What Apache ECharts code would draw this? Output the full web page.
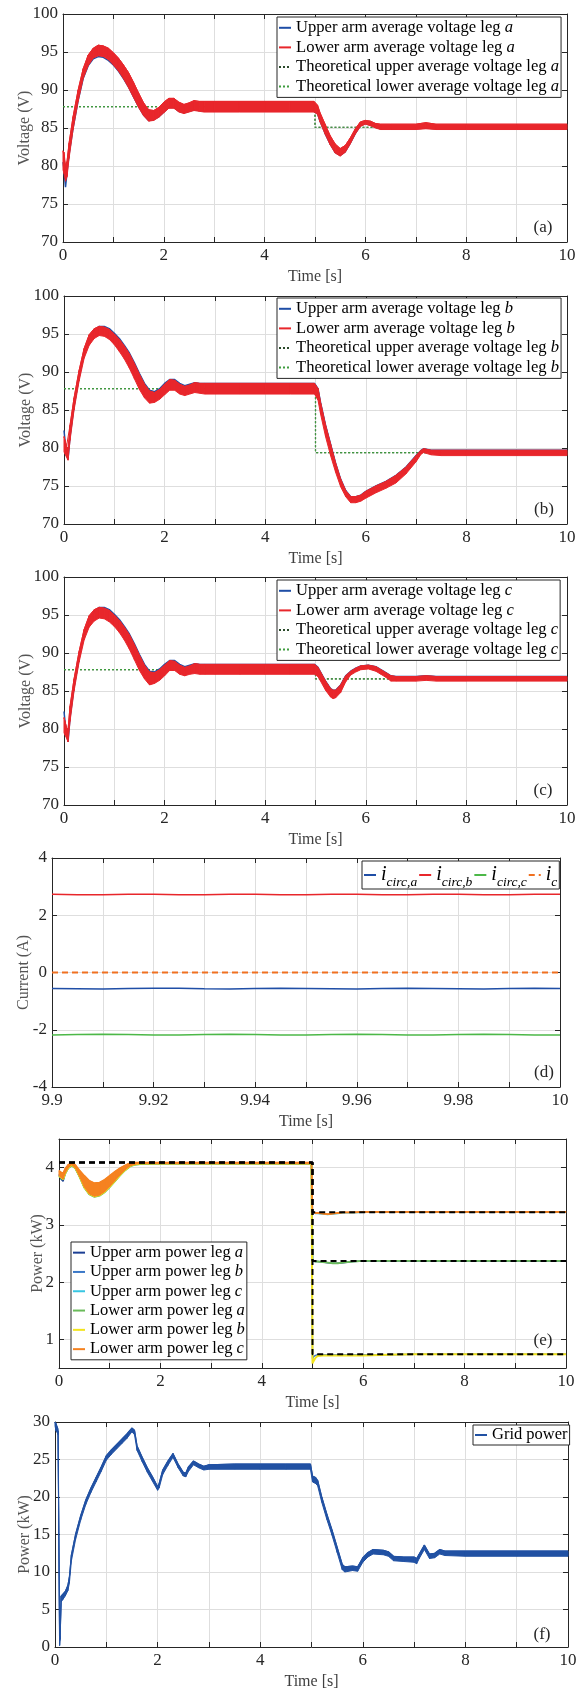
<!DOCTYPE html>
<html><head><meta charset="utf-8">
<script src="https://cdn.jsdelivr.net/npm/echarts@6/dist/echarts.min.js"></script>
<style>html,body{margin:0;padding:0;background:#fff}#c{width:587px;height:1693px}</style>
</head><body><div id="c"></div>
<script>
// ---------- Panel (a) ----------
const tA = [0,0.02,0.05,0.08,0.12,0.2,0.3,0.4,0.5,0.6,0.7,0.8,0.9,1.0,1.1,1.2,1.3,1.4,1.5,1.6,1.7,1.8,1.9,2.0,2.1,2.2,2.3,2.4,2.5,2.6,2.7,2.8,3.0,3.5,4.0,4.5,4.98,5.05,5.1,5.2,5.3,5.4,5.5,5.6,5.7,5.8,5.9,6.0,6.1,6.2,6.3,6.5,7.0,7.2,7.4,8.0,9.0,10.0];
const lowerALo = [79.5,79.0,78.0,78.6,81.0,84.8,88.5,91.5,93.2,94.2,94.5,94.4,94.0,93.3,92.5,91.5,90.3,89.0,87.7,86.6,85.9,86.0,86.4,87.0,87.6,87.6,87.1,86.9,87.1,87.3,87.2,87.1,87.1,87.1,87.1,87.1,87.1,86.8,85.8,84.2,82.8,81.7,81.3,81.8,82.9,84.2,85.2,85.5,85.3,85.0,84.8,84.8,84.8,84.9,84.8,84.8,84.8,84.8];
const lowerAHi = [82.0,81.8,80.0,80.6,83.0,86.5,90.0,92.8,94.6,95.5,95.9,95.8,95.5,94.9,94.2,93.3,92.3,91.0,89.6,88.3,87.4,87.3,87.7,88.4,88.9,88.9,88.4,88.1,88.3,88.6,88.5,88.5,88.5,88.5,88.5,88.5,88.5,88.0,87.0,85.5,84.0,82.9,82.3,82.7,83.7,84.9,85.8,86.0,85.9,85.6,85.5,85.5,85.5,85.7,85.5,85.5,85.5,85.5];
const upperA = [80.5,79.5,77.2,79.2,81.5,85.0,88.6,91.5,93.2,94.1,94.4,94.3,93.9,93.3,92.5,91.5,90.4,89.1,87.8,86.7,86.0,86.1,86.5,87.1,87.7,87.7,87.2,87.0,87.2,87.4,87.3,87.2,87.2,87.2,87.2,87.2,87.2,86.9,85.9,84.3,82.9,81.8,81.4,81.9,83.0,84.3,85.3,85.6,85.4,85.1,84.9,84.9,84.9,85.0,84.9,84.9,84.9,84.9];
// ---------- Panel (b) ----------
const tB = [0,0.02,0.05,0.08,0.12,0.2,0.3,0.4,0.5,0.6,0.7,0.8,0.9,1.0,1.1,1.2,1.3,1.4,1.5,1.6,1.7,1.8,1.9,2.0,2.1,2.2,2.3,2.4,2.5,2.6,2.7,2.8,3.0,3.5,4.0,4.5,4.98,5.05,5.1,5.2,5.3,5.4,5.5,5.6,5.7,5.8,5.9,6.0,6.2,6.4,6.6,6.8,7.0,7.1,7.15,7.3,7.5,8.0,9.0,10.0];
const lowerBLo = [79.5,79.2,78.8,78.4,81.0,85.0,88.8,91.8,93.5,94.4,94.8,94.7,94.3,93.6,92.7,91.7,90.5,89.1,87.7,86.6,85.9,86.0,86.4,87.0,87.6,87.6,87.1,86.9,87.1,87.3,87.2,87.1,87.1,87.1,87.1,87.1,87.1,86.3,84.5,81.5,79.0,76.8,74.9,73.6,72.8,72.8,73.0,73.4,74.1,74.7,75.4,76.6,78.2,79.2,79.4,79.1,79.0,79.0,79.0,79.0];
const lowerBHi = [81.5,81.0,80.2,80.0,83.0,86.6,90.2,93.1,94.9,95.7,96.0,95.9,95.6,95.0,94.3,93.4,92.4,91.1,89.7,88.4,87.5,87.3,87.7,88.4,89.0,88.9,88.4,88.1,88.3,88.6,88.5,88.5,88.5,88.5,88.5,88.5,88.5,87.8,86.0,83.0,80.5,78.0,75.9,74.4,73.6,73.6,73.8,74.3,75.0,75.6,76.4,77.5,79.0,79.7,79.9,79.7,79.7,79.7,79.7,79.7];
const upperB = [82.3,81.0,79.5,78.5,81.5,85.5,89.3,92.4,94.2,95.4,96.0,96.0,95.7,95.1,94.4,93.5,92.5,91.2,89.8,88.5,87.6,87.4,87.8,88.5,89.0,89.0,88.5,88.2,88.4,88.6,88.5,88.5,88.5,88.5,88.5,88.5,88.5,87.8,86.0,83.0,80.5,78.0,75.9,74.4,73.6,73.6,73.8,74.3,75.0,75.6,76.4,77.5,79.0,79.7,79.9,79.7,79.7,79.7,79.7,79.7];
// ---------- Panel (c) ----------
const tC = [0,0.02,0.05,0.08,0.12,0.2,0.3,0.4,0.5,0.6,0.7,0.8,0.9,1.0,1.1,1.2,1.3,1.4,1.5,1.6,1.7,1.8,1.9,2.0,2.1,2.2,2.3,2.4,2.5,2.6,2.7,2.8,3.0,3.5,4.0,4.5,4.98,5.05,5.1,5.2,5.3,5.35,5.4,5.5,5.6,5.7,5.8,5.9,6.05,6.2,6.3,6.4,6.5,6.6,7.0,7.2,7.4,8.0,9.0,10.0];
const lowerCLo = [79.5,79.2,78.8,78.3,81.0,85.0,88.8,91.7,93.4,94.2,94.6,94.5,94.1,93.5,92.7,91.7,90.5,89.1,87.7,86.6,85.8,86.0,86.4,87.0,87.7,87.7,87.2,87.0,87.2,87.3,87.2,87.2,87.2,87.2,87.2,87.2,87.2,86.9,86.3,85.1,84.2,84.0,84.1,84.8,86.2,87.1,87.5,87.8,87.9,87.6,87.2,86.8,86.3,86.3,86.3,86.4,86.3,86.3,86.3,86.3];
const lowerCHi = [81.5,81.0,80.2,79.9,83.0,86.6,90.2,93.1,94.9,95.7,96.0,95.9,95.6,95.0,94.3,93.4,92.4,91.1,89.7,88.4,87.5,87.4,87.8,88.4,89.0,88.9,88.4,88.1,88.3,88.6,88.5,88.5,88.5,88.5,88.5,88.5,88.5,88.1,87.5,86.3,85.3,85.1,85.1,85.8,87.0,87.6,88.0,88.3,88.4,88.2,87.8,87.4,87.0,86.9,86.9,87.0,86.9,86.9,86.9,86.9];
const upperC = [82.3,81.0,79.5,78.3,81.5,85.5,89.3,92.4,94.2,95.4,96.0,96.0,95.7,95.1,94.4,93.5,92.5,91.2,89.8,88.5,87.6,87.5,87.9,88.5,89.0,89.0,88.5,88.2,88.4,88.6,88.5,88.5,88.5,88.5,88.5,88.5,88.5,88.1,87.5,86.3,85.3,85.1,85.1,85.8,87.0,87.6,88.0,88.3,88.4,88.2,87.8,87.4,87.0,86.9,86.9,87.0,86.9,86.9,86.9,86.9];
// theoretical references (a)-(c)
const tTheo = [0,5,5,10];
const theoA = [87.8,87.8,85.1,85.1];
const theoB = [87.8,87.8,79.4,79.4];
const theoC = [87.8,87.8,86.6,86.6];
// ---------- Panel (d) ----------
const tD = [9.9,9.905,9.91,9.915,9.92,9.925,9.93,9.935,9.94,9.945,9.95,9.955,9.96,9.965,9.97,9.975,9.98,9.985,9.99,9.995,10];
const iCircA = [-0.56,-0.57,-0.58,-0.56,-0.55,-0.55,-0.57,-0.58,-0.56,-0.55,-0.56,-0.57,-0.58,-0.56,-0.55,-0.56,-0.57,-0.58,-0.56,-0.55,-0.56];
const iCircB = [2.73,2.72,2.72,2.73,2.73,2.72,2.72,2.73,2.73,2.72,2.72,2.73,2.73,2.72,2.72,2.73,2.73,2.72,2.72,2.73,2.73];
const iCircC = [-2.18,-2.17,-2.16,-2.17,-2.18,-2.18,-2.17,-2.16,-2.17,-2.18,-2.18,-2.17,-2.16,-2.17,-2.18,-2.18,-2.17,-2.16,-2.17,-2.18,-2.18];
const iC = [0,0,0,0,0,0,0,0,0,0,0,0,0,0,0,0,0,0,0,0,0];
// ---------- Panel (e) ----------
const tE = [0,0.04,0.08,0.12,0.18,0.25,0.32,0.4,0.5,0.6,0.7,0.8,0.9,1.0,1.1,1.2,1.3,1.4,1.5,1.6,2.0,3.0,4.0,4.98,5.0,5.02,5.06,5.1,5.2,5.3,5.4,5.5,5.6,5.8,6.0,6.5,7.0,8.0,9.0,10.0];
const pUpA = [3.88,3.80,3.76,3.89,3.99,4.04,3.99,3.86,3.66,3.54,3.50,3.52,3.58,3.67,3.77,3.87,3.96,4.03,4.06,4.07,4.07,4.07,4.07,4.07,2.37,2.36,2.36,2.36,2.35,2.34,2.33,2.33,2.34,2.36,2.37,2.37,2.37,2.37,2.37,2.37];
const pUpB = [3.86,3.83,3.80,3.90,4.00,4.05,4.00,3.86,3.66,3.54,3.50,3.52,3.58,3.67,3.77,3.87,3.96,4.03,4.06,4.07,4.07,4.07,4.07,4.07,0.66,0.70,0.72,0.73,0.73,0.73,0.73,0.73,0.73,0.73,0.73,0.73,0.74,0.74,0.74,0.74];
const pUpC = [3.86,3.83,3.80,3.90,4.00,4.05,4.00,3.86,3.66,3.54,3.50,3.52,3.58,3.67,3.77,3.87,3.96,4.03,4.06,4.07,4.07,4.07,4.07,4.07,3.22,3.21,3.20,3.20,3.19,3.18,3.19,3.20,3.21,3.21,3.22,3.22,3.22,3.22,3.22,3.22];
const pLoA = [3.85,3.82,3.79,3.89,3.99,4.04,3.99,3.85,3.65,3.53,3.49,3.51,3.57,3.66,3.76,3.86,3.95,4.02,4.05,4.06,4.07,4.07,4.07,4.07,2.37,2.36,2.36,2.36,2.35,2.34,2.33,2.33,2.34,2.36,2.37,2.37,2.37,2.37,2.37,2.37];
const pLoB = [3.86,3.83,3.80,3.90,4.00,4.05,4.00,3.86,3.66,3.54,3.50,3.52,3.58,3.67,3.77,3.87,3.96,4.03,4.06,4.07,4.07,4.07,4.07,4.07,0.58,0.62,0.68,0.71,0.72,0.72,0.72,0.72,0.72,0.72,0.72,0.73,0.74,0.74,0.74,0.74];
const pLoCLo = [3.86,3.83,3.80,3.90,4.00,4.05,4.00,3.86,3.66,3.54,3.50,3.52,3.58,3.67,3.77,3.87,3.96,4.03,4.06,4.07,4.07,4.07,4.07,4.07,3.22,3.21,3.20,3.20,3.19,3.18,3.19,3.20,3.21,3.21,3.22,3.22,3.22,3.22,3.22,3.22];
const pLoCHi = [3.95,3.92,3.90,3.98,4.05,4.08,4.05,3.96,3.86,3.77,3.73,3.74,3.79,3.86,3.93,3.99,4.04,4.08,4.09,4.09,4.09,4.09,4.09,4.09,3.23,3.22,3.21,3.21,3.20,3.19,3.20,3.21,3.22,3.22,3.23,3.23,3.23,3.23,3.23,3.23];
const tRef = [0,5,5,10];
const refC = [4.09,4.09,3.22,3.22];
const refA = [4.09,4.09,2.37,2.37];
const refB = [4.09,4.09,0.74,0.74];
// ---------- Panel (f) ----------
const tF = [0,0.02,0.05,0.06,0.09,0.1,0.12,0.15,0.2,0.25,0.28,0.32,0.4,0.5,0.6,0.7,0.8,0.9,1.0,1.1,1.2,1.3,1.4,1.5,1.55,1.6,1.7,1.8,1.9,2.0,2.03,2.1,2.2,2.3,2.4,2.5,2.55,2.6,2.7,2.8,2.9,3.0,3.5,4.0,4.5,4.98,5.02,5.08,5.12,5.2,5.3,5.4,5.5,5.6,5.65,5.8,5.9,6.0,6.1,6.2,6.4,6.5,6.6,6.8,7.0,7.05,7.1,7.2,7.3,7.4,7.5,7.6,8.0,9.0,10.0];
const gridLo = [29.5,28.8,28.5,28.3,0.2,1.0,6.0,6.3,6.8,7.5,8.5,11.5,14.3,16.9,19.0,20.6,22.0,23.4,24.9,25.7,26.4,27.1,27.8,28.7,28.3,26.2,24.7,23.3,22.1,20.9,21.2,23.0,24.2,25.3,23.9,22.8,22.7,23.4,24.3,23.9,23.6,23.7,23.7,23.7,23.7,23.7,22.0,21.8,21.5,19.3,17.0,14.9,12.6,10.3,10.0,10.2,10.1,11.3,12.0,12.4,12.3,12.1,11.5,11.4,11.3,11.1,11.8,13.0,11.8,11.9,12.4,12.2,12.1,12.1,12.1];
const gridHi = [30.0,29.8,29.2,28.8,0.8,1.5,6.8,7.0,7.4,8.2,9.3,12.3,15.0,17.5,19.6,21.2,22.6,24.0,25.5,26.3,27.0,27.7,28.4,29.2,28.9,26.8,25.3,23.9,22.7,21.4,21.8,23.6,24.8,25.8,24.4,23.3,23.2,24.0,24.8,24.4,24.1,24.3,24.4,24.4,24.4,24.4,22.8,22.6,22.2,20.0,17.7,15.6,13.3,11.0,10.7,10.8,10.7,11.9,12.6,13.0,12.9,12.7,12.1,12.0,12.0,11.8,12.4,13.6,12.4,12.5,13.0,12.8,12.8,12.8,12.8];

// ---------- styling / layout ----------
const FONT = 'Liberation Serif, serif';
const AX = '#262626', GRIDC = '#dedede';
const grids = [
  {left:63, top:14, width:504, height:228},
  {left:64, top:296, width:503, height:228},
  {left:64, top:577, width:503, height:228},
  {left:52, top:858, width:508, height:229},
  {left:59, top:1139, width:507, height:229},
  {left:55, top:1422, width:513, height:225}
];
const xCfg = [
  {min:0,max:10,interval:2},{min:0,max:10,interval:2},{min:0,max:10,interval:2},
  {min:9.9,max:10,interval:0.02},{min:0,max:10,interval:2},{min:0,max:10,interval:2}
];
const yCfg = [
  {min:70,max:100,interval:5,name:'Voltage (V)',gap:30},
  {min:70,max:100,interval:5,name:'Voltage (V)',gap:30},
  {min:70,max:100,interval:5,name:'Voltage (V)',gap:30},
  {min:-4,max:4,interval:2,name:'Current (A)',gap:20},
  {min:0.5,max:4.5,splitNumber:4,name:'Power (kW)',gap:13,intOnly:true},
  {min:0,max:30,interval:5,name:'Power (kW)',gap:22}
];
const xAxes = [], yAxes = [];
grids.forEach((g,i)=>{
  const xc = xCfg[i], yc = yCfg[i];
  const line = {show:true,onZero:false,lineStyle:{color:AX,width:1}};
  const tick = {show:true,inside:true,length:5,lineStyle:{color:AX}};
  const minor = {show:true,splitNumber:2,length:5,lineStyle:{color:AX}};
  xAxes.push({gridIndex:i,type:'value',position:'bottom',min:xc.min,max:xc.max,interval:xc.interval,
    axisLine:line,axisTick:tick,minorTick:minor,
    splitLine:{show:true,lineStyle:{color:GRIDC,width:1}},
    minorSplitLine:{show:true,lineStyle:{color:GRIDC,width:1}},
    axisLabel:{fontFamily:FONT,fontSize:17,color:AX,margin:5},
    name:'Time [s]',nameLocation:'middle',nameGap:27,nameMoveOverlap:false,
    nameTextStyle:{fontFamily:FONT,fontSize:16,color:'#404040'}});
  xAxes.push({gridIndex:i,type:'value',position:'top',min:xc.min,max:xc.max,interval:xc.interval,
    axisLine:line,axisTick:tick,minorTick:minor,axisLabel:{show:false},splitLine:{show:false}});
  const yb = {gridIndex:i,type:'value',min:yc.min,max:yc.max};
  if (yc.interval) yb.interval = yc.interval; else yb.splitNumber = yc.splitNumber;
  yAxes.push(Object.assign({},yb,{position:'left',axisLine:line,axisTick:tick,
    splitLine:{show:true,lineStyle:{color:GRIDC,width:1}},
    axisLabel:{fontFamily:FONT,fontSize:17,color:AX,margin:5,
      formatter: yc.intOnly ? (v=>Math.abs(v-Math.round(v))<1e-9 ? String(Math.round(v)) : '') : undefined},
    name:yc.name,nameLocation:'middle',nameGap:yc.gap,nameMoveOverlap:false,
    nameTextStyle:{fontFamily:FONT,fontSize:16,color:'#555'}}));
  yAxes.push(Object.assign({},yb,{position:'right',axisLine:line,axisTick:tick,axisLabel:{show:false},splitLine:{show:false}}));
});

function pairs(t,v){ return t.map((x,k)=>[x,v[k]]); }
function lineS(gi,name,t,v,color,width,z,type){
  const s = {type:'line',xAxisIndex:2*gi,yAxisIndex:2*gi,data:pairs(t,v),symbol:'none',
    lineStyle:{color:color,width:width,type:type||'solid'},itemStyle:{color:color},z:z,silent:true};
  if (name) s.name = name;
  return s;
}
// filled ripple envelope between lo and hi, drawn segment by segment through the axis scales
function bandS(gi,t,lo,hi,color,z){
  const rows = [];
  for (let k=0;k<t.length-1;k++) rows.push([t[k],lo[k],hi[k],t[k+1],lo[k+1],hi[k+1]]);
  return {type:'custom',xAxisIndex:2*gi,yAxisIndex:2*gi,z:z,silent:true,data:rows,
    encode:{x:[0,3],y:[1,2,4,5]},
    renderItem:(params,api)=>{
      const a = api.coord([api.value(0),api.value(1)]);
      const b = api.coord([api.value(3),api.value(4)]);
      const c = api.coord([api.value(3),api.value(5)]);
      const d = api.coord([api.value(0),api.value(2)]);
      return {type:'polygon',shape:{points:[a,b,c,d]},style:{fill:color,stroke:color,lineWidth:1}};
    }};
}
const BLUE='#1f4ea6', RED='#e8262b', DKG='#2b4a2b', LTG='#3f9c3f';
const series = [];
const legends = [];
const legBase = {itemWidth:12,itemHeight:10,itemGap:0,borderColor:AX,borderWidth:1,backgroundColor:'#fff',
  selectedMode:false,itemStyle:{opacity:0}};
const vPanels = [
  {t:tA,up:upperA,lo:lowerALo,hi:lowerAHi,th:theoA,leg:'a'},
  {t:tB,up:upperB,lo:lowerBLo,hi:lowerBHi,th:theoB,leg:'b'},
  {t:tC,up:upperC,lo:lowerCLo,hi:lowerCHi,th:theoC,leg:'c'}
];
const legTops = [17,298,580];
vPanels.forEach((p,i)=>{
  const n1='Upper arm average voltage leg '+p.leg, n2='Lower arm average voltage leg '+p.leg,
        n3='Theoretical upper average voltage leg '+p.leg, n4='Theoretical lower average voltage leg '+p.leg;
  series.push(lineS(i,n1,p.t,p.up,BLUE,1.5,3));
  series.push(bandS(i,p.t,p.lo,p.hi,RED,4));
  series.push(lineS(i,n2,p.t,p.hi,RED,1,4));
  series.push(lineS(i,n3,tTheo,p.th,DKG,1.2,2,[2,2]));
  series.push(lineS(i,n4,tTheo,p.th,LTG,1.2,2,[2,2]));
  legends.push(Object.assign({},legBase,{data:[n1,n2,n3,n4],orient:'vertical',left:277,top:legTops[i],
    padding:[1,2,1,1],
    formatter:nm=>nm.replace(/ ([abc])$/,' {it|$1}'),
    textStyle:{fontFamily:FONT,fontSize:16.6,color:'#000',lineHeight:19.6,
      rich:{it:{fontFamily:FONT,fontSize:16.6,fontStyle:'italic',color:'#000',lineHeight:19.6}}}}));
});
// (d)
const dNames=['icirc,a','icirc,b','icirc,c','ic'];
series.push(lineS(3,dNames[0],tD,iCircA,'#1f4ea6',1.5,3));
series.push(lineS(3,dNames[1],tD,iCircB,'#e8262b',1.5,3));
series.push(lineS(3,dNames[2],tD,iCircC,'#4cb848',1.5,3));
series.push(lineS(3,dNames[3],tD,iC,'#f07020',2,3,[6,4]));
legends.push(Object.assign({},legBase,{data:dNames,orient:'horizontal',left:362,top:861,itemGap:1,
  padding:[0,2,0,1],
  formatter:nm=>'{i|i}{s|'+nm.slice(1)+'}',
  textStyle:{fontFamily:FONT,fontSize:13.5,color:'#000',lineHeight:28,
    rich:{i:{fontFamily:FONT,fontSize:20,fontStyle:'italic',color:'#000',lineHeight:28,verticalAlign:'middle'},
          s:{fontFamily:FONT,fontSize:13.5,fontStyle:'italic',color:'#000',lineHeight:28,verticalAlign:'bottom'}}}}));
// (e)
const eNames=['Upper arm power leg a','Upper arm power leg b','Upper arm power leg c','Lower arm power leg a','Lower arm power leg b','Lower arm power leg c'];
series.push(lineS(4,eNames[0],tE,pUpA,'#1c3f94',1.5,3));
series.push(lineS(4,eNames[1],tE,pUpB,'#3a78c8',1.5,3));
series.push(lineS(4,eNames[2],tE,pUpC,'#38c6e2',1.5,3));
series.push(lineS(4,eNames[3],tE,pLoA,'#6abb5a',1.8,4));
series.push(lineS(4,eNames[4],tE,pLoB,'#f2e41c',2,4));
series.push(bandS(4,tE,pLoCLo,pLoCHi,'#f58220',5));
series.push(lineS(4,eNames[5],tE,pLoCHi,'#f58220',1.5,5));
series.push(lineS(4,null,tRef,refC,'#000',2,6,[6,4]));
series.push(lineS(4,null,tRef,refA,'#000',2,6,[6,4]));
series.push(lineS(4,null,tRef,refB,'#000',2,6,[6,4]));
legends.push(Object.assign({},legBase,{data:eNames,orient:'vertical',left:71,top:1242,
  padding:[1,2,1,1],
  formatter:nm=>nm.replace(/ ([abc])$/,' {it|$1}'),
  textStyle:{fontFamily:FONT,fontSize:16.5,color:'#000',lineHeight:19.3,
    rich:{it:{fontFamily:FONT,fontSize:16.5,fontStyle:'italic',color:'#000',lineHeight:19.3}}}}));
// (f)
series.push(bandS(5,tF,gridLo,gridHi,'#2151a3',3));
series.push(lineS(5,'Grid power',tF,gridHi,'#2151a3',1.2,3));
legends.push(Object.assign({},legBase,{data:['Grid power'],orient:'vertical',left:473,top:1425,
  padding:[0,2,0,1],
  textStyle:{fontFamily:FONT,fontSize:16.5,color:'#000',lineHeight:20}}));

const tags = [['(a)',543,228],['(b)',544,510],['(c)',543,791],['(d)',544,1073],['(e)',543,1341],['(f)',542,1635]];
const graphic = tags.map(g=>({type:'text',x:g[1],y:g[2],z:10,
  style:{text:g[0],font:'17px Liberation Serif',fill:AX,textAlign:'center',textVerticalAlign:'middle'}}));

const chart = echarts.init(document.getElementById('c'),null,{renderer:'canvas'});
chart.setOption({animation:false,backgroundColor:'#fff',grid:grids,xAxis:xAxes,yAxis:yAxes,
  series:series,legend:legends,graphic:graphic});
</script></body></html>
